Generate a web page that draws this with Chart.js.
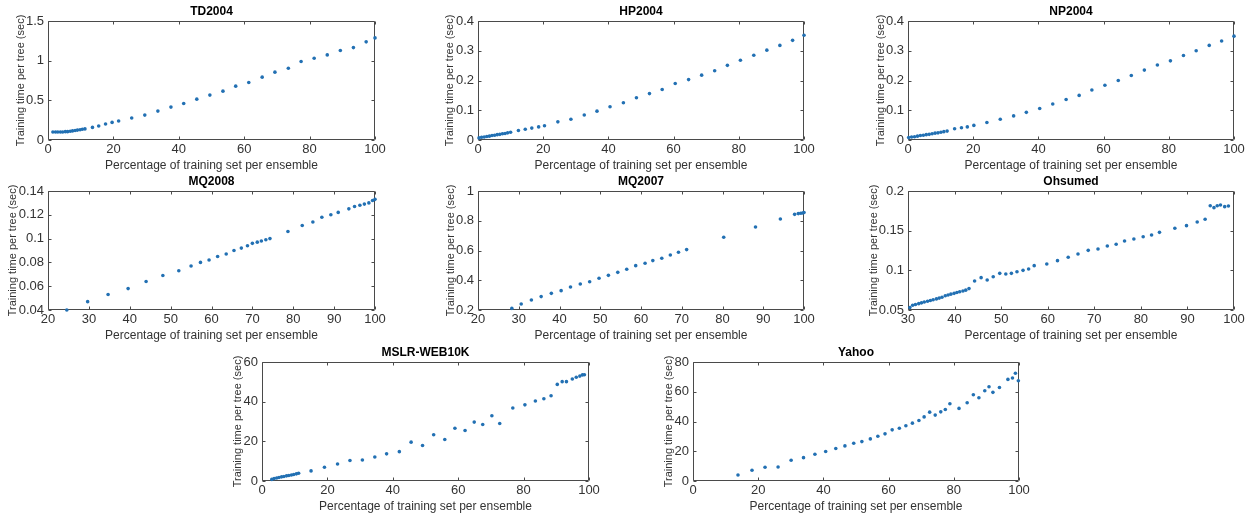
<!DOCTYPE html>
<html>
<head>
<meta charset="utf-8">
<script src="https://cdn.jsdelivr.net/npm/chart.js@4.4.1/dist/chart.umd.min.js"></script>
<style>
  html, body { margin: 0; padding: 0; background: #fff; }
  body { width: 1250px; height: 515px; position: relative; overflow: hidden; }
  canvas { position: absolute; }
</style>
</head>
<body>
<script>
// --- data ---
const tdX = [1.5, 2.3, 3.0, 3.8, 4.5, 5.3, 6.0, 6.8, 7.5, 8.3, 9.0, 9.8, 10.5, 11.3, 13.6, 15.5, 17.6, 19.6, 21.6, 25.6, 29.6, 33.6, 37.6, 41.5, 45.5, 49.5, 53.5, 57.4, 61.4, 65.5, 69.4, 73.5, 77.4, 81.4, 85.4, 89.4, 93.4, 97.3, 100];
const tdY = [0.10, 0.10, 0.10, 0.10, 0.10, 0.105, 0.105, 0.11, 0.115, 0.12, 0.125, 0.13, 0.135, 0.14, 0.159, 0.176, 0.201, 0.222, 0.239, 0.277, 0.314, 0.364, 0.415, 0.461, 0.515, 0.566, 0.616, 0.679, 0.725, 0.792, 0.855, 0.905, 0.989, 1.031, 1.073, 1.128, 1.165, 1.237, 1.287];

const hpX = [0.3, 1.1, 1.9, 2.7, 3.5, 4.3, 5.1, 5.9, 6.7, 7.5, 8.3, 9.1, 10.0, 12.4, 14.5, 16.5, 18.6, 20.4, 24.5, 28.5, 32.6, 36.5, 40.5, 44.6, 48.6, 52.6, 56.5, 60.5, 64.6, 68.6, 72.6, 76.5, 80.5, 84.6, 88.6, 92.6, 96.5, 100];
const hpY = [0.007, 0.009, 0.010, 0.012, 0.013, 0.015, 0.016, 0.018, 0.019, 0.021, 0.022, 0.024, 0.026, 0.032, 0.036, 0.040, 0.044, 0.048, 0.061, 0.070, 0.084, 0.097, 0.112, 0.125, 0.142, 0.156, 0.170, 0.190, 0.203, 0.218, 0.233, 0.251, 0.268, 0.285, 0.302, 0.318, 0.335, 0.352];

const npX = [0.2, 1.1, 2.0, 2.9, 3.8, 4.7, 5.6, 6.5, 7.4, 8.3, 9.2, 10.1, 11.0, 12.0, 14.3, 16.4, 18.2, 20.2, 24.2, 28.3, 32.4, 36.3, 40.4, 44.4, 48.5, 52.5, 56.4, 60.4, 64.5, 68.5, 72.5, 76.5, 80.5, 84.5, 88.4, 92.4, 96.2, 100];
const npY = [0.008, 0.010, 0.011, 0.013, 0.015, 0.016, 0.018, 0.019, 0.021, 0.023, 0.024, 0.026, 0.028, 0.030, 0.038, 0.041, 0.044, 0.049, 0.059, 0.070, 0.081, 0.093, 0.106, 0.121, 0.136, 0.150, 0.168, 0.184, 0.200, 0.217, 0.235, 0.252, 0.266, 0.284, 0.300, 0.318, 0.333, 0.349];

const mq8X = [24.6, 29.7, 34.7, 39.6, 44.0, 48.1, 52.0, 55.0, 57.3, 59.4, 61.5, 63.6, 65.5, 67.3, 68.8, 70.0, 71.2, 72.2, 73.3, 74.3, 78.7, 82.2, 84.8, 87.0, 89.2, 91.0, 93.6, 95.0, 96.3, 97.4, 98.5, 99.4, 100];
const mq8Y = [0.040, 0.047, 0.053, 0.058, 0.064, 0.069, 0.073, 0.077, 0.080, 0.082, 0.085, 0.087, 0.090, 0.092, 0.094, 0.096, 0.097, 0.098, 0.099, 0.100, 0.106, 0.111, 0.114, 0.118, 0.120, 0.122, 0.125, 0.127, 0.128, 0.129, 0.130, 0.132, 0.133];

const mq7X = [28.3, 30.6, 33.1, 35.5, 38.0, 40.4, 42.7, 45.1, 47.4, 49.7, 52.0, 54.3, 56.5, 58.7, 61.0, 62.9, 65.1, 67.2, 69.2, 71.2, 80.3, 88.1, 94.2, 97.7, 98.6, 99.2, 99.7, 100];
const mq7Y = [0.211, 0.240, 0.267, 0.290, 0.312, 0.330, 0.355, 0.375, 0.390, 0.413, 0.433, 0.453, 0.474, 0.498, 0.514, 0.532, 0.548, 0.570, 0.588, 0.606, 0.689, 0.758, 0.812, 0.843, 0.848, 0.850, 0.852, 0.855];

const ohX = [30.4, 31.0, 31.6, 32.3, 32.9, 33.5, 34.2, 34.8, 35.4, 36.1, 36.7, 37.3, 38.0, 38.6, 39.2, 39.9, 40.5, 41.1, 41.8, 42.4, 43.1,
  44.3, 45.7, 47.0, 48.3, 49.7, 51.0, 52.2, 53.4, 54.7, 55.9, 57.1, 59.8, 62.1, 64.4, 66.5, 68.7, 70.8, 72.8, 74.7, 76.5, 78.5, 80.5, 82.3, 84.0, 87.3, 89.8, 92.1, 93.8, 94.9, 95.7, 96.4, 97.1, 98.0, 98.8];
const ohY = [0.053, 0.056, 0.057, 0.058, 0.059, 0.060, 0.061, 0.062, 0.063, 0.064, 0.065, 0.066, 0.068, 0.069, 0.070, 0.071, 0.072, 0.073, 0.074, 0.075, 0.077,
  0.0866, 0.0908, 0.0878, 0.092, 0.0962, 0.0954, 0.0962, 0.0983, 0.100, 0.1017, 0.1059, 0.108, 0.1122, 0.1164, 0.1206, 0.1252, 0.1269, 0.1307, 0.1328, 0.137, 0.1395, 0.1424, 0.1445, 0.1479, 0.153, 0.1563, 0.161, 0.1643, 0.1815, 0.179, 0.1815, 0.1824, 0.1803, 0.181];

const msX = [3.0, 3.7, 4.5, 5.2, 6.0, 6.7, 7.5, 8.2, 9.0, 9.7, 10.5, 11.2, 15.0, 19.1, 23.1, 26.9, 30.7, 34.5, 38.1, 42.0, 45.6, 49.1, 52.5, 55.9, 59.0, 62.1, 64.9, 67.5, 70.3, 72.7, 76.7, 80.4, 83.6, 86.2, 88.4, 90.3, 91.8, 93.1, 94.9, 96.1, 97.2, 98.0, 98.6];
const msY = [0.8, 1.2, 1.5, 1.8, 2.1, 2.3, 2.6, 2.8, 3.0, 3.3, 3.6, 3.9, 5.1, 6.9, 8.6, 10.3, 10.6, 12.1, 13.7, 14.8, 19.6, 17.9, 23.3, 20.9, 26.6, 25.5, 29.7, 28.5, 32.9, 29.0, 36.8, 38.4, 40.3, 41.5, 43.0, 48.7, 50.1, 50.1, 51.4, 52.3, 52.9, 53.5, 53.6];

const yaX = [13.8, 18.1, 22.1, 26.1, 30.1, 33.9, 37.4, 40.7, 43.8, 46.6, 49.3, 51.8, 54.4, 56.7, 58.9, 61.1, 63.3, 65.3, 67.3, 69.3, 70.9, 72.6, 74.3, 76.0, 77.4, 78.8, 81.6, 84.1, 86.0, 87.7, 89.5, 90.8, 92.0, 94.0, 96.6, 98.0, 98.9, 99.8];
const yaY = [4.0, 7.2, 9.2, 9.4, 13.9, 15.7, 18.0, 19.8, 21.8, 23.6, 25.4, 26.5, 28.3, 30.1, 31.7, 34.4, 35.5, 37.1, 38.9, 40.7, 43.1, 46.3, 44.3, 46.5, 48.1, 51.9, 48.8, 52.6, 58.0, 56.0, 60.7, 63.4, 59.6, 62.9, 68.3, 69.2, 72.4, 67.4];

const X_LABEL = 'Percentage of training set per ensemble';
const Y_LABEL = 'Training time per tree (sec)';

Chart.defaults.font.family = "'Liberation Sans', Arial, Helvetica, sans-serif";

// panel layout: plot-area left/top in page pixels, axis ranges
const panels = [
  { title: 'TD2004', xs: tdX, ys: tdY, left: 48, top: 21, w: 327, x: [0, 100, 20], y: [0, 1.5, 0.5], gap: 27.5 },
  { title: 'HP2004', xs: hpX, ys: hpY, left: 478, top: 21, w: 326, x: [0, 100, 20], y: [0, 0.4, 0.1], gap: 28 },
  { title: 'NP2004', xs: npX, ys: npY, left: 908, top: 21, w: 326, x: [0, 100, 20], y: [0, 0.4, 0.1], gap: 27.5 },
  { title: 'MQ2008', xs: mq8X, ys: mq8Y, left: 48, top: 191, w: 327, x: [20, 100, 10], y: [0.04, 0.14, 0.02], gap: 35 },
  { title: 'MQ2007', xs: mq7X, ys: mq7Y, left: 478, top: 191, w: 326, x: [20, 100, 10], y: [0.2, 1, 0.2], gap: 27 },
  { title: 'Ohsumed', xs: ohX, ys: ohY, left: 908, top: 191, w: 326, x: [30, 100, 10], y: [0.05, 0.2, 0.05], gap: 34 },
  { title: 'MSLR-WEB10K', xs: msX, ys: msY, left: 262, top: 362, w: 327, x: [0, 100, 20], y: [0, 60, 20], gap: 24 },
  { title: 'Yahoo', xs: yaX, ys: yaY, left: 693, top: 362, w: 326, x: [0, 100, 20], y: [0, 80, 20], gap: 24 }
];

const Y_AXIS_W = 60, TITLE_H = 22, X_AXIS_H = 35, PLOT_H = 119, PAD_R = 14;
const TEXT = '#333333';
const DOT = '#2270b3';

// MATLAB-like box with inward tick marks on all four sides
const matlabBox = {
  id: 'matlabBox',
  beforeDatasetsDraw(chart) {
    const { ctx, chartArea: a, scales } = chart;
    const L = Math.round(a.left) + 0.5, R = Math.round(a.right) - 0.5;
    const T = Math.round(a.top) + 0.5, B = Math.round(a.bottom) - 0.5;
    ctx.save();
    ctx.strokeStyle = '#4a4a4a';
    ctx.lineWidth = 1;
    ctx.beginPath();
    ctx.rect(L, T, R - L, B - T);
    scales.x.ticks.forEach(t => {
      const px = Math.round(scales.x.getPixelForValue(t.value)) + 0.5;
      ctx.moveTo(px, B); ctx.lineTo(px, B - 3);
      ctx.moveTo(px, T); ctx.lineTo(px, T + 3);
    });
    scales.y.ticks.forEach(t => {
      const py = Math.round(scales.y.getPixelForValue(t.value)) + 0.5;
      ctx.moveTo(L, py); ctx.lineTo(L + 3, py);
      ctx.moveTo(R, py); ctx.lineTo(R - 3, py);
    });
    ctx.stroke();
    ctx.restore();
  }
};

const fmt = v => String(+Number(v).toFixed(4));

panels.forEach(p => {
  const canvas = document.createElement('canvas');
  canvas.width = Y_AXIS_W + p.w + PAD_R;
  canvas.height = TITLE_H + PLOT_H + X_AXIS_H;
  canvas.style.left = (p.left - Y_AXIS_W) + 'px';
  canvas.style.top = (p.top - TITLE_H) + 'px';
  document.body.appendChild(canvas);

  new Chart(canvas, {
    type: 'scatter',
    data: {
      datasets: [{
        data: p.xs.map((v, i) => ({ x: v, y: p.ys[i] })),
        backgroundColor: DOT,
        borderWidth: 0,
        pointRadius: 1.8,
        clip: false
      }]
    },
    options: {
      responsive: false,
      animation: false,
      layout: { padding: { left: 0, top: 0, right: PAD_R, bottom: 0 } },
      plugins: {
        legend: { display: false },
        tooltip: { enabled: false },
        title: {
          display: true,
          text: p.title,
          fullSize: false,
          color: '#000',
          font: { size: 12, weight: 'bold', lineHeight: 1 },
          padding: { top: 7, bottom: 3 }
        }
      },
      scales: {
        x: {
          type: 'linear',
          position: 'bottom',
          min: p.x[0], max: p.x[1],
          grid: { display: false, drawTicks: false },
          border: { display: false },
          ticks: { stepSize: p.x[2], autoSkip: false, maxRotation: 0, padding: 2, color: TEXT, font: { size: 13 }, callback: fmt },
          title: { display: true, text: X_LABEL, color: TEXT, font: { size: 12 }, padding: { top: 0, bottom: 2 } },
          afterFit: s => { s.height = X_AXIS_H; }
        },
        y: {
          type: 'linear',
          position: 'left',
          min: p.y[0], max: p.y[1],
          grid: { display: false, drawTicks: false },
          border: { display: false },
          ticks: { stepSize: p.y[2], autoSkip: false, padding: 4, color: TEXT, font: { size: 13 }, callback: fmt },
          title: { display: true, text: Y_LABEL, color: TEXT, font: { size: 11 }, padding: { top: Y_AXIS_W - p.gap - 6.6, bottom: 0 } },
          afterFit: s => { s.width = Y_AXIS_W; }
        }
      }
    },
    plugins: [matlabBox]
  });
});
</script>
</body>
</html>
